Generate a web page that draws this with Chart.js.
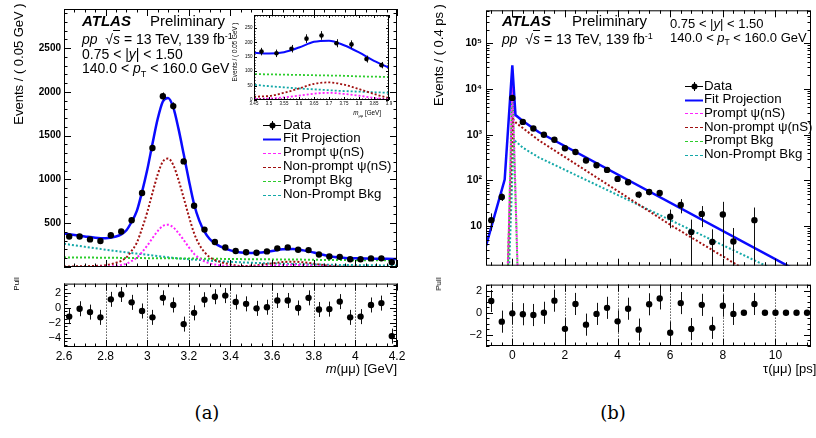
<!DOCTYPE html>
<html>
<head>
<meta charset="utf-8">
<script src="https://cdn.jsdelivr.net/npm/chart.js@4.4.1/dist/chart.umd.min.js"></script>
<style>
body{margin:0;background:#fff;overflow:hidden}
#fig{position:relative;width:816px;height:438px;overflow:hidden;background:#fff;font-family:'Liberation Sans',Arial,sans-serif;color:#000}
#fig canvas{position:absolute}
.t{position:absolute;white-space:nowrap;line-height:1;transform:translateY(-50%)}
.r{transform:translate(-100%,-50%)}
.rot{transform:translate(-50%,-50%) rotate(-90deg)}
.cap{font-family:'DejaVu Serif',serif;font-size:18px;transform:translate(-50%,-50%)}
sup{font-size:65%;vertical-align:0.6em;line-height:0}
sub{font-size:65%;vertical-align:-0.45em;line-height:0}
.ov{text-decoration:overline}
</style>
</head>
<body>
<div id="fig">
  <canvas id="massMain" width="410" height="276" style="left:0;top:0"></canvas>
  <canvas id="massPull" width="410" height="92" style="left:0;top:274px"></canvas>
  <canvas id="tauMain" width="406" height="276" style="left:410px;top:0"></canvas>
  <canvas id="tauPull" width="406" height="92" style="left:410px;top:274px"></canvas>
  <canvas id="massInset" width="169" height="102" style="left:226px;top:10px"></canvas>

  <!-- (a) labels -->
  <div class="t" style="left:82px;top:20px;font-size:15px;font-weight:bold;font-style:italic">ATLAS</div>
  <div class="t" style="left:150px;top:20px;font-size:15px">Preliminary</div>
  <div class="t" style="left:82px;top:39px;font-size:14px"><i>pp</i>&nbsp; √<span class="ov"><i>s</i></span> = 13 TeV, 139 fb<sup>-1</sup></div>
  <div class="t" style="left:82px;top:54px;font-size:14px">0.75 &lt; |<i>y</i>| &lt; 1.50</div>
  <div class="t" style="left:82px;top:68px;font-size:14px">140.0 &lt; <i>p</i><sub>T</sub> &lt; 160.0 GeV</div>
  <div class="t rot" style="left:17.5px;top:64px;font-size:13px">Events / ( 0.05 GeV )</div>
  <div class="t rot" style="left:16.5px;top:284px;font-size:8px">Pull</div>
  <div class="t r" style="left:397px;top:368px;font-size:13px"><i>m</i>(μμ) [GeV]</div>
  <div class="t rot" style="left:234.5px;top:52px;font-size:6.3px">Events / ( 0.05 GeV )</div>
  <div class="t r" style="left:381px;top:113px;font-size:6.3px"><i>m</i><sub>μμ</sub> [GeV]</div>

  <!-- (b) labels -->
  <div class="t" style="left:502px;top:20px;font-size:15px;font-weight:bold;font-style:italic">ATLAS</div>
  <div class="t" style="left:572px;top:20px;font-size:15px">Preliminary</div>
  <div class="t" style="left:502px;top:39px;font-size:14px"><i>pp</i>&nbsp; √<span class="ov"><i>s</i></span> = 13 TeV, 139 fb<sup>-1</sup></div>
  <div class="t" style="left:670px;top:23px;font-size:13px">0.75 &lt; |<i>y</i>| &lt; 1.50</div>
  <div class="t" style="left:670px;top:37px;font-size:13px">140.0 &lt; <i>p</i><sub>T</sub> &lt; 160.0 GeV</div>
  <div class="t rot" style="left:437.5px;top:55px;font-size:13px">Events / ( 0.4 ps )</div>
  <div class="t rot" style="left:438.5px;top:284px;font-size:8px">Pull</div>
  <div class="t" style="left:763px;top:368px;font-size:13px">τ(μμ) [ps]</div>

  <div class="t cap" style="left:207px;top:413px">(a)</div>
  <div class="t cap" style="left:613px;top:413px">(b)</div>
</div>

<script>
'use strict';
// ============================================================
// psi(nS) fit projections, 0.75<|y|<1.50, 140<pT<160 GeV
// (a) dimuon mass   (b) pseudo-proper lifetime
// ============================================================

// ---- (a) mass: data (bin centres, counts, errors, pulls) ----
var massBins   = [2.625,2.675,2.725,2.775,2.825,2.875,2.925,2.975,3.025,3.075,3.125,3.175,3.225,3.275,3.325,3.375,
                  3.425,3.475,3.525,3.575,3.625,3.675,3.725,3.775,3.825,3.875,3.925,3.975,4.025,4.075,4.125,4.175];
var massCounts = [348,348,315,297,362,405,533,845,1359,1949,1837,1206,699,427,285,222,
                  183,168,162,178,213,224,197,193,142,121,116,89,89,98,99,55];
var massErr    = [19,19,18,17,19,20,23,29,37,44,43,35,26,21,17,15,14,13,13,13,15,15,14,14,12,11,11,9,9,10,10,7];
var massPull   = [-1.2,-0.15,-0.6,-1.3,1.1,1.75,0.7,-0.45,-1.3,1.3,0.35,-2.2,-0.7,1.05,1.45,1.6,
                  0.75,0.5,-0.1,0.05,0.95,0.95,-0.05,1.3,-0.25,-0.2,0.8,-1.3,-1.2,0.35,0.6,-3.8];
var massPullErr= [1,1,1,1,1,1,1,1,1,1,1,1,1,1,1,1,1,1,1,1,1,1,1,1,1,1,1,1,1,1,1,1];

// ---- (a) mass: fitted curves ----
var massGrid = [2.6,2.65,2.7,2.75,2.8,2.85,
                2.875,2.9,2.925,2.95,2.975,3.0,3.025,3.05,3.075,3.1,3.125,3.15,3.175,3.2,3.225,3.25,3.275,3.3,3.325,3.35,
                3.4,3.45,3.5,3.55,3.6,3.65,3.7,3.75,3.8,3.85,3.9,3.95,4.0,4.05,4.1,4.15,4.2];
var massFit          = [382,365,349,334,328,348,
                        372,420,517,640,858,1110,1407,1690,1890,1930,1822,1580,1290,990,717,530,405,320,270,235,
                        190,165,161,166,182,202,206,190,165,136,113,104,100,97,95,94,92];
var massPromptPsi    = [0,0,0,1,4,13,
                        23,38,69,106,170,244,329,410,468,482,453,387,308,225,150,99,64,41,28,19,
                        9,4,5,9,15,22,25,21,15,7,2,1,0,0,0,0,0];
var massNonPromptPsi = [6,7,9,12,20,48,
                        70,110,185,278,440,626,845,1055,1204,1238,1165,996,791,579,387,255,170,112,80,58,
                        30,12,14,25,40,56,61,53,38,21,7,3,2,1,1,1,1];
var massPromptBkg    = [110,109,108,107,106,105,
                        104,104,103,103,102,101,101,100,100,99,99,98,97,97,96,96,95,95,94,93,
                        92,90,89,88,87,86,85,84,82,81,80,79,78,77,76,76,75];
var massNonPromptBkg = [265,248,231,214,198,182,
                        175,168,160,153,146,139,132,125,118,111,105,99,94,89,84,80,76,72,68,65,
                        59,53,48,44,40,37,34,31,29,27,25,23,22,20,19,18,17];

var massTicks  = [2.6,2.8,3,3.2,3.4,3.6,3.8,4,4.2];
var massYTicks = [500,1000,1500,2000,2500];
var pullTicksA = [-4,-2,0,2];
var insetTicks = [3.45,3.5,3.55,3.6,3.65,3.7,3.75,3.8,3.85,3.9];
var insetYTicks= [0,50,100,150,200,250];

// ---- (b) lifetime: data ----
var tauBins   = [-0.8,-0.4,0,0.4,0.8,1.2,1.6,2.0,2.4,2.8,3.2,3.6,4.0,4.4,4.8,5.2,
                 5.6,6.0,6.4,6.8,7.2,7.6,8.0,8.4,8.8,9.2,9.6,10.0,10.4,10.8,11.2];
var tauCounts = [13.5,43.5,6400,1910,1370,1000,775,505,418,273,215,170,108,91,49,56,
                 53,16,29,7.4,18.5,4.5,18,4.6,null,13.5,null,null,null,null,null];
var tauErr    = [5.5,8,110,44,37,32,28,22,20,17,15,13,10.5,10,8,8.5,
                 8.5,7,10,6.5,9,4,16,4.5,0,12,0,0,0,0,0];
var tauPull   = [1.07,-0.8,-0.05,-0.13,-0.2,0,1.1,-1.45,0.8,-1.07,-0.1,0.45,-0.77,0.37,-1.52,0.77,
                 1.3,-1.8,0.88,-1.47,0.72,-1.36,0.64,-0.1,0,0.8,0,0,0,0,0];
var tauPullErr= [1,1,1,1,1,1,1,1,1,1,1,1,1,1,1,1,1,1,1,1,1,1,1,1,0,1,0,0,0,0,0];

// ---- (b) lifetime: fitted curves ----
var tauFitX = [-1.0,-0.29,0,0.12,0.4,1.0,11.35];
var tauFitY = [3.7,105,33000,2700,2000,1150,0.72];
var tauPromptPsiX = [-0.25,0,0.3];
var tauPromptPsiY = [0.01,20000,0.01];
var tauNonPromptPsiX = [-0.3,0.02,0.15,0.4,1.0,6.0,8.6,11.35];
var tauNonPromptPsiY = [0.01,2200,1800,1400,760,10.7,1.35,0.15];
var tauPromptBkgX = [-0.25,0,0.3];
var tauPromptBkgY = [0.01,12000,0.01];
var tauNonPromptBkgX = [-0.25,0.05,0.15,0.4,1.0,6.0,9.7,11.35];
var tauNonPromptBkgY = [0.01,750,700,520,320,13.6,1.3,0.45];

var tauTicks   = [0,2,4,6,8,10];
var logTicks   = [10,100,1000,10000,100000];
var pullTicksB = [-2,0,2];

var legendLabels = ['Data','Fit Projection','Prompt \u03c8(nS)','Non-prompt \u03c8(nS)','Prompt Bkg','Non-Prompt Bkg'];

// ---- styles ----
var BLUE = '#0a0aff', MAG = '#ff22ff', DRED = '#a01010', GRN = '#2ccc2c', CYN = '#14a8a8';
var FONT = "'Liberation Sans', Arial, sans-serif";
var SUP = {'2':'\u00b2','3':'\u00b3','4':'\u2074','5':'\u2075'};

Chart.defaults.font.family = FONT;
Chart.defaults.color = '#000';

// ---- helpers ----
function pts(xs, ys, es) {
  var out = [];
  for (var i = 0; i < xs.length; i++) {
    if (ys[i] == null) continue;
    out.push({x: xs[i], y: ys[i], e: es ? es[i] : 0});
  }
  return out;
}
function steps(a, b, d) {
  var r = [];
  for (var v = a; v <= b + 1e-9; v += d) r.push(+v.toFixed(4));
  return r;
}
function logMinor(lo, hi) {
  var r = [];
  for (var p = Math.floor(Math.log10(lo)); Math.pow(10, p) < hi; p++)
    for (var k = 1; k < 10; k++) r.push(k * Math.pow(10, p));
  return r;
}
function curve(xs, ys, color, w, dash, smooth, off) {
  return {data: pts(xs, ys), showLine: true, borderColor: color, borderWidth: w,
    borderDash: dash || [], borderDashOffset: off || 0, borderCapStyle: 'butt',
    pointRadius: 0, pointHoverRadius: 0, fill: false, tension: 0,
    cubicInterpolationMode: smooth ? 'monotone' : 'default', order: 1};
}
function points(xs, ys, es, r) {
  return {data: pts(xs, ys, es), showLine: false, pointRadius: r, pointHoverRadius: r,
    backgroundColor: '#000', borderColor: '#000', borderWidth: 0, errBars: true, order: 0};
}
function fmtNum(v) { return v < 0 ? '\u2212' + Math.abs(v) : String(v); }
function fmtLog(v) {
  var p = Math.round(Math.log10(v));
  return p === 1 ? '10' : '10' + SUP[p];
}

// ============================================================
// ROOT-like pad: frame, inner ticks, dotted grid, error bars
// ============================================================
var padCfg = {};
var RootPad = {
  id: 'rootPad',
  beforeDatasetsDraw: function(chart) {
    var c = padCfg[chart.canvas.id]; if (!c || !c.grid) return;
    var ctx = chart.ctx, a = chart.chartArea, xs = chart.scales.x;
    ctx.save(); ctx.strokeStyle = '#000'; ctx.lineWidth = 1; ctx.setLineDash([1, 2]);
    c.grid.forEach(function(v) {
      var px = Math.round(xs.getPixelForValue(v)) + 0.5;
      ctx.beginPath(); ctx.moveTo(px, a.top); ctx.lineTo(px, a.bottom); ctx.stroke();
    });
    ctx.restore();
  },
  beforeDatasetDraw: function(chart, args) {
    var ds = chart.data.datasets[args.index]; if (!ds.errBars) return;
    var ctx = chart.ctx, a = chart.chartArea, xs = chart.scales.x, ys = chart.scales.y;
    var isLog = ys.type === 'logarithmic';
    ctx.save();
    ctx.beginPath(); ctx.rect(a.left, a.top, a.right - a.left, a.bottom - a.top); ctx.clip();
    ctx.strokeStyle = '#111'; ctx.lineWidth = 1;
    ds.data.forEach(function(p) {
      if (!p.e) return;
      var px = Math.round(xs.getPixelForValue(p.x)) + 0.5;
      var lo = p.y - p.e;
      var y1 = ys.getPixelForValue(p.y + p.e);
      var y2 = (isLog && lo <= 0) ? a.bottom + 2 : ys.getPixelForValue(lo);
      ctx.beginPath(); ctx.moveTo(px, y1); ctx.lineTo(px, y2); ctx.stroke();
    });
    ctx.restore();
  },
  afterDatasetsDraw: function(chart) {
    var c = padCfg[chart.canvas.id]; if (!c) return;
    var ctx = chart.ctx, a = chart.chartArea, xs = chart.scales.x, ys = chart.scales.y;
    ctx.save(); ctx.strokeStyle = '#000'; ctx.lineWidth = 1;
    function tx(v, len) {
      if (v < xs.min || v > xs.max) return;
      var px = Math.round(xs.getPixelForValue(v)) + 0.5;
      ctx.moveTo(px, a.bottom); ctx.lineTo(px, a.bottom - len);
      ctx.moveTo(px, a.top); ctx.lineTo(px, a.top + len);
    }
    function ty(v, len) {
      if (v < ys.min || v > ys.max) return;
      var py = Math.round(ys.getPixelForValue(v)) + 0.5;
      ctx.moveTo(a.left, py); ctx.lineTo(a.left + len, py);
      ctx.moveTo(a.right, py); ctx.lineTo(a.right - len, py);
    }
    ctx.beginPath();
    c.xMin.forEach(function(v) { tx(v, c.min); });
    c.xMaj.forEach(function(v) { tx(v, c.maj); });
    c.yMin.forEach(function(v) { ty(v, c.min); });
    c.yMaj.forEach(function(v) { ty(v, c.maj); });
    ctx.stroke();
    ctx.strokeRect(a.left + 0.5, a.top + 0.5, a.right - a.left - 1, a.bottom - a.top - 1);
    ctx.restore();
  }
};

function makePad(id, c) {
  padCfg[id] = c.frame;
  var yFont = c.yFont, xFont = c.xFont;
  return new Chart(document.getElementById(id), {
    type: 'scatter',
    data: {datasets: c.datasets},
    options: {
      responsive: false, animation: false, devicePixelRatio: 1, events: [],
      layout: {padding: c.padding},
      plugins: {legend: {display: false}, tooltip: {enabled: false}},
      scales: {
        x: {
          type: 'linear', min: c.xMin, max: c.xMax, display: !!c.xTicks,
          grid: {display: false, drawTicks: false}, border: {display: false},
          ticks: {font: xFont, padding: c.xPad || 2, autoSkip: false, maxRotation: 0, minRotation: 0, color: '#000',
                  callback: function(v) { return fmtNum(v); }},
          afterBuildTicks: function(s) { if (c.xTicks) s.ticks = c.xTicks.map(function(v) { return {value: v}; }); },
          afterFit: function(s) { s.height = c.xh || 0; }
        },
        y: {
          type: c.log ? 'logarithmic' : 'linear', position: 'left', min: c.yMin, max: c.yMax,
          grid: {display: false, drawTicks: false}, border: {display: false},
          ticks: {font: yFont, padding: c.yPad || 3, autoSkip: false, color: '#000',
                  callback: function(v) { return c.log ? fmtLog(v) : fmtNum(v); }},
          afterBuildTicks: function(s) { s.ticks = c.yTicks.map(function(v) { return {value: v}; }); },
          afterFit: function(s) { s.width = c.yw; }
        }
      }
    },
    plugins: [RootPad]
  });
}

// ---- (a) mass, main pad ----
makePad('massMain', {
  datasets: [
    points(massBins, massCounts, massErr, 3.2),
    curve(massGrid, massFit, BLUE, 2.5, null, true),
    curve(massGrid, massPromptPsi, MAG, 2, [2, 2], true),
    curve(massGrid, massNonPromptPsi, DRED, 2, [2, 2], true),
    curve(massGrid, massPromptBkg, GRN, 2, [2, 2], true),
    curve(massGrid, massNonPromptBkg, CYN, 2, [2, 2], true)
  ],
  padding: {top: 4, right: 13, bottom: 1, left: 0},
  xMin: 2.6, xMax: 4.2, yMin: 0, yMax: 2946, yw: 64, yPad: 3,
  yTicks: massYTicks, yFont: {size: 10, weight: 'bold'},
  frame: {xMaj: massTicks, xMin: steps(2.6, 4.2, 0.05), yMaj: steps(0, 2900, 500), yMin: steps(0, 2900, 100), maj: 7, min: 3.5}
});

// ---- (a) mass, pull pad ----
makePad('massPull', {
  datasets: [points(massBins, massPull, massPullErr, 3.2)],
  padding: {top: 1, right: 13, bottom: 0, left: 0},
  xMin: 2.6, xMax: 4.2, xTicks: massTicks, xFont: {size: 12}, xh: 19, xPad: 2,
  yMin: -5.25, yMax: 3.2, yw: 64, yPad: 3, yTicks: pullTicksA, yFont: {size: 11},
  frame: {grid: [2.8, 3, 3.2, 3.4, 3.6, 3.8, 4], xMaj: massTicks, xMin: steps(2.6, 4.2, 0.05),
          yMaj: pullTicksA, yMin: steps(-5, 3, 0.5), maj: 7, min: 3.5}
});

// ---- (a) psi(2S) inset ----
makePad('massInset', {
  datasets: [
    points(massBins, massCounts, massErr, 2.3),
    curve(massGrid, massFit, BLUE, 2, null, true),
    curve(massGrid, massPromptPsi, MAG, 1.8, [2, 2], true),
    curve(massGrid, massNonPromptPsi, DRED, 1.8, [2, 2], true),
    curve(massGrid, massPromptBkg, GRN, 1.8, [2, 2], true),
    curve(massGrid, massNonPromptBkg, CYN, 1.8, [2, 2], true)
  ],
  padding: {top: 5, right: 6, bottom: 0, left: 0},
  xMin: 3.45, xMax: 3.9, xTicks: insetTicks, xFont: {size: 4.5}, xh: 12, xPad: 1,
  yMin: 0, yMax: 295, yw: 28, yPad: 1.5, yTicks: insetYTicks, yFont: {size: 4.5},
  frame: {xMaj: insetTicks, xMin: steps(3.45, 3.9, 0.01), yMaj: insetYTicks, yMin: steps(0, 290, 10), maj: 3, min: 1.5}
});

// ---- (b) lifetime, main pad ----
makePad('tauMain', {
  datasets: [
    points(tauBins, tauCounts, tauErr, 3.2),
    curve(tauFitX, tauFitY, BLUE, 2.5),
    curve(tauPromptPsiX, tauPromptPsiY, MAG, 2, [2, 2]),
    curve(tauNonPromptPsiX, tauNonPromptPsiY, DRED, 2, [2, 2]),
    curve(tauPromptBkgX, tauPromptBkgY, GRN, 2, [2, 2], false, 2),
    curve(tauNonPromptBkgX, tauNonPromptBkgY, CYN, 2, [2, 2])
  ],
  padding: {top: 4, right: 5, bottom: 1, left: 0},
  xMin: -1, xMax: 11.35, log: true, yMin: 1.36, yMax: 5.3e5, yw: 76, yPad: 4,
  yTicks: logTicks, yFont: {size: 10.5, weight: 'bold'},
  frame: {xMaj: tauTicks, xMin: steps(-0.8, 11.2, 0.4), yMaj: logTicks, yMin: logMinor(1, 5.3e5), maj: 7, min: 3.5}
});

// ---- (b) lifetime, pull pad ----
makePad('tauPull', {
  datasets: [points(tauBins, tauPull, tauPullErr, 3.2)],
  padding: {top: 1, right: 5, bottom: 0, left: 0},
  xMin: -1, xMax: 11.35, xTicks: tauTicks, xFont: {size: 12}, xh: 20, xPad: 2,
  yMin: -3, yMax: 2.55, yw: 76, yPad: 4, yTicks: pullTicksB, yFont: {size: 11},
  frame: {grid: tauTicks, xMaj: tauTicks, xMin: steps(-0.8, 11.2, 0.4),
          yMaj: pullTicksB, yMin: steps(-3, 2.5, 0.5), maj: 7, min: 3.5}
});

// ---- legends (HTML) ----
var legendStyles = [
  {kind: 'data'},
  {color: BLUE, w: 2, dash: ''},
  {color: MAG, w: 1.2, dash: '3 2'},
  {color: DRED, w: 1.2, dash: '3 2'},
  {color: GRN, w: 1.2, dash: '3 2'},
  {color: CYN, w: 1.2, dash: '3 2'}
];
function addLegend(x, tx, y0, dy) {
  var fig = document.getElementById('fig');
  legendLabels.forEach(function(lbl, i) {
    var y = y0 + i * dy, s = legendStyles[i];
    var svg = s.kind === 'data'
      ? '<line x1="0" y1="6.5" x2="18" y2="6.5" stroke="#000" stroke-width="1"/>' +
        '<line x1="9.5" y1="2" x2="9.5" y2="11" stroke="#000" stroke-width="1"/>' +
        '<circle cx="9.5" cy="6.5" r="3" fill="#000"/>'
      : '<line x1="0" y1="6.5" x2="18" y2="6.5" stroke="' + s.color + '" stroke-width="' + s.w + '"' +
        (s.dash ? ' stroke-dasharray="' + s.dash + '"' : '') + '/>';
    var d = document.createElement('div');
    d.style.cssText = 'position:absolute;left:' + x + 'px;top:' + (y - 6.5) + 'px;width:18px;height:13px';
    d.innerHTML = '<svg width="18" height="13">' + svg + '</svg>';
    fig.appendChild(d);
    var t = document.createElement('div');
    t.className = 't';
    t.style.cssText = 'left:' + tx + 'px;top:' + y + 'px;font-size:13.3px';
    t.textContent = lbl;
    fig.appendChild(t);
  });
}
addLegend(263, 283, 124.5, 13.9);
addLegend(685, 704, 85.5, 13.7);
</script>
</body>
</html>
